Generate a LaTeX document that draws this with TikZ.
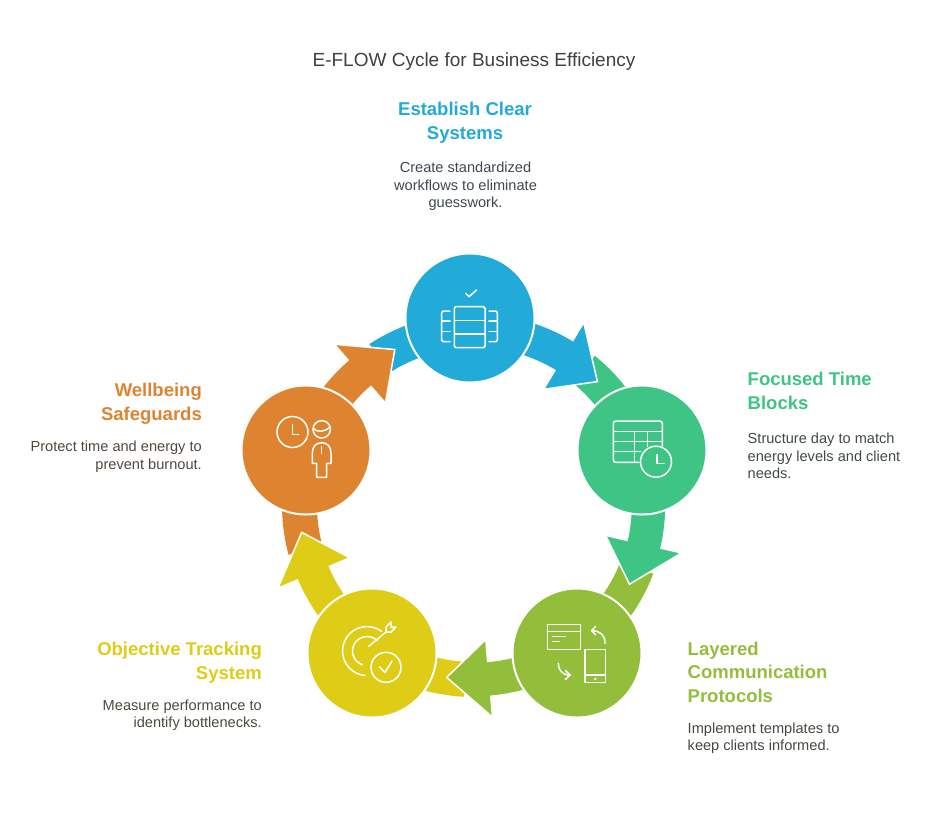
\documentclass[tikz,border=0pt]{standalone}
\usepackage{fontspec}
\setmainfont{Liberation Sans}
\usetikzlibrary{calc}
\definecolor{cblue}{HTML}{22AAD9}
\definecolor{cgreen}{HTML}{3EC585}
\definecolor{clime}{HTML}{93BE3B}
\definecolor{cyellow}{HTML}{DECC17}
\definecolor{corange}{HTML}{DE8431}
\definecolor{ctitle}{HTML}{404040}
\definecolor{tblue}{HTML}{3E4850}
\definecolor{tgreen}{HTML}{3F4A45}
\definecolor{tlime}{HTML}{45493F}
\definecolor{tyellow}{HTML}{4C4A3E}
\definecolor{torange}{HTML}{52473F}
\tikzset{
  stepcircle/.style={circle, draw=white, line width=2pt, minimum size=129pt, inner sep=0pt},
  icon/.style={draw=white, line width=1.5pt, line cap=round, line join=round},
  headtxt/.style={inner sep=0pt, font=\fontsize{18.5}{22}\selectfont\bfseries},
  desctxt/.style={inner sep=0pt, font=\fontsize{14.6}{17}\selectfont},
}
\begin{document}
\begin{tikzpicture}[x=1pt,y=-1pt]
\useasboundingbox (0,0) rectangle (949,828);
\coordinate (C) at (474,505);

% tails (incoming parts of each band)
\foreach \i/\col in {0/cblue,1/cgreen,2/clime,3/cyellow,4/corange}{
  \pgfmathsetmacro\a{-90+72*\i}
  \pgfmathsetmacro\b{\a-33}
  \fill[\col] ($(C)+(\b:192)$) arc[start angle=\b,end angle=\a,radius=192]
     -- ($(C)+(\a:157)$) arc[start angle=\a,end angle=\b,radius=157] -- cycle;
}
% outgoing arrows
\foreach \i/\col in {0/cblue,1/cgreen,2/clime,3/cyellow,4/corange}{
  \pgfmathsetmacro\a{-90+72*\i}
  \pgfmathsetmacro\b{\a+31}
  \pgfmathsetmacro\t{\a+45}
  \filldraw[fill=\col, draw=white, line width=1.5pt, line join=miter]
     ($(C)+(\a:192)$) arc[start angle=\a,end angle=\b,radius=192]
     -- ($(C)+(\b:213)$) -- ($(C)+(\t:174.5)$) -- ($(C)+(\b:135)$)
     -- ($(C)+(\b:157)$) arc[start angle=\b,end angle=\a,radius=157] -- cycle;
}

% circles
\node[stepcircle, fill=cblue]   (s1) at (470,318) {};
\node[stepcircle, fill=cgreen]  (s2) at (642,450) {};
\node[stepcircle, fill=clime]   (s3) at (577,653) {};
\node[stepcircle, fill=cyellow] (s4) at (372,653) {};
\node[stepcircle, fill=corange] (s5) at (306,450) {};

% icon 1: systems
\draw[icon] (465.7,293.3) -- (469,296.7) -- (476.5,290);
\draw[icon, rounded corners=1.5pt] (454.3,306.7) rectangle (485,347.7);
\draw[icon] (454.3,320.4) -- (485,320.4) (454.3,334) -- (485,334);
\draw[icon, rounded corners=1.5pt] (450,311) -- (441.7,311) -- (441.7,341.7) -- (450,341.7);
\draw[icon] (441.7,321) -- (450,321) (441.7,331.5) -- (450,331.5);
\draw[icon, rounded corners=1.5pt] (489,311) -- (497.3,311) -- (497.3,341.7) -- (489,341.7);
\draw[icon] (489,321) -- (497.3,321) (489,331.5) -- (497.3,331.5);

% icon 2: time blocks
\draw[icon, rounded corners=2.5pt] (639,462.3) -- (613.3,462.3) -- (613.3,421) -- (662.3,421) -- (662.3,446);
\draw[icon] (613.3,431.7) -- (662.3,431.7) (613.3,441.7) -- (662.3,441.7) (613.3,451.7) -- (640.5,451.7);
\draw[icon] (634.3,431.7) -- (634.3,462.3) (647.7,431.7) -- (647.7,446.5);
\draw[icon] (656,461.7) circle[radius=15.5];
\draw[icon] (657,454.5) -- (657,463.3) -- (664,463.3);

% icon 3: communication
\draw[icon] (547.3,624.3) rectangle (580.7,649.3);
\draw[icon] (547.3,631.7) -- (580.7,631.7) (552.7,636.7) -- (565,636.7) (552.7,641.7) -- (559.3,641.7);
\draw[icon] (585,649.3) rectangle (605.7,682.7);
\draw[icon] (585,675) -- (605.7,675);
\fill[white] (595.3,679) circle[radius=1.3pt];
\draw[icon] (605,643.3) .. controls (605,635) and (600,630.7) .. (591.7,630.7);
\draw[icon] (595.5,626.5) -- (591.5,630.7) -- (595.7,634.8);
\draw[icon] (558.3,663.3) .. controls (558.3,670) and (562,675) .. (570,675);
\draw[icon] (565.5,670.5) -- (570,675) -- (565.5,679.5);

% icon 4: tracking
\draw[icon] ($(367,651)+(-54:24.5)$) arc[start angle=-54,end angle=-265,radius=24.5];
\draw[icon] ($(367,651)+(-45:14.5)$) arc[start angle=-45,end angle=-252,radius=14.5];
\draw[icon] (368.5,646.5) -- (386.5,631.5);
\draw[icon] (386,627) -- (386,632) -- (391,632) -- (396,627) -- (391,627) -- (391,622) -- cycle;
\draw[icon] (386,667.3) circle[radius=15];
\draw[icon] (379.5,667) -- (385,672.5) -- (392,661);

% icon 5: wellbeing
\draw[icon] (292.5,432) circle[radius=15.5];
\draw[icon] (292.5,424.5) -- (292.5,434.5) -- (298.5,434.5);
\draw[icon] (321.7,429.3) circle[radius=8.7];
\draw[icon] (313.5,428.5) .. controls (317,432.5) and (325,432.5) .. (330.2,426.5);
\draw[icon] (316.7,477.3) -- (316.7,463.3) -- (312.3,463.3) -- (312.3,453.3)
   .. controls (312.3,446.5) and (316,442.7) .. (321.7,442.7)
   .. controls (327.4,442.7) and (331,446.5) .. (331,453.3)
   -- (331,463.3) -- (326.7,463.3) -- (326.7,477.3) -- cycle;
\draw[icon] (321.7,446.7) -- (321.7,453.3);

% title
\node[inner sep=0pt, anchor=base, text=ctitle, font=\fontsize{19}{23}\selectfont] (title) at (474,66.5) {E-FLOW Cycle for Business Efficiency};

% step 1 text
\node[headtxt, anchor=base, text=cblue] (h1a) at (465,115) {Establish Clear};
\node[headtxt, anchor=base, text=cblue] (h1b) at (465,139) {Systems};
\node[desctxt, anchor=base, text=tblue] (d1a) at (465.5,172.5) {Create standardized};
\node[desctxt, anchor=base, text=tblue] (d1b) at (465.5,190.2) {workflows to eliminate};
\node[desctxt, anchor=base, text=tblue] (d1c) at (465.5,207.9) {guesswork.};

% step 2 text
\node[headtxt, anchor=base west, text=cgreen] (h2a) at (747.5,385.7) {Focused Time};
\node[headtxt, anchor=base west, text=cgreen] (h2b) at (747.5,409.5) {Blocks};
\node[desctxt, anchor=base west, text=tgreen] (d2a) at (747.5,443.3) {Structure day to match};
\node[desctxt, anchor=base west, text=tgreen] (d2b) at (747.5,461) {energy levels and client};
\node[desctxt, anchor=base west, text=tgreen] (d2c) at (747.5,478.6) {needs.};

% step 3 text
\node[headtxt, anchor=base west, text=clime] (h3a) at (687.5,655) {Layered};
\node[headtxt, anchor=base west, text=clime] (h3b) at (687.5,678.6) {Communication};
\node[headtxt, anchor=base west, text=clime] (h3c) at (687.5,702.2) {Protocols};
\node[desctxt, anchor=base west, text=tlime] (d3a) at (687.5,733.3) {Implement templates to};
\node[desctxt, anchor=base west, text=tlime] (d3b) at (687.5,750.9) {keep clients informed.};

% step 4 text
\node[headtxt, anchor=base east, text=cyellow] (h4a) at (262,655) {Objective Tracking};
\node[headtxt, anchor=base east, text=cyellow] (h4b) at (262,679) {System};
\node[desctxt, anchor=base east, text=tyellow] (d4a) at (262,710) {Measure performance to};
\node[desctxt, anchor=base east, text=tyellow] (d4b) at (262,727.6) {identify bottlenecks.};

% step 5 text
\node[headtxt, anchor=base east, text=corange] (h5a) at (202,396.7) {Wellbeing};
\node[headtxt, anchor=base east, text=corange] (h5b) at (202,420.7) {Safeguards};
\node[desctxt, anchor=base east, text=torange] (d5a) at (202,451.7) {Protect time and energy to};
\node[desctxt, anchor=base east, text=torange] (d5b) at (202,469.4) {prevent burnout.};
\end{tikzpicture}
\end{document}
